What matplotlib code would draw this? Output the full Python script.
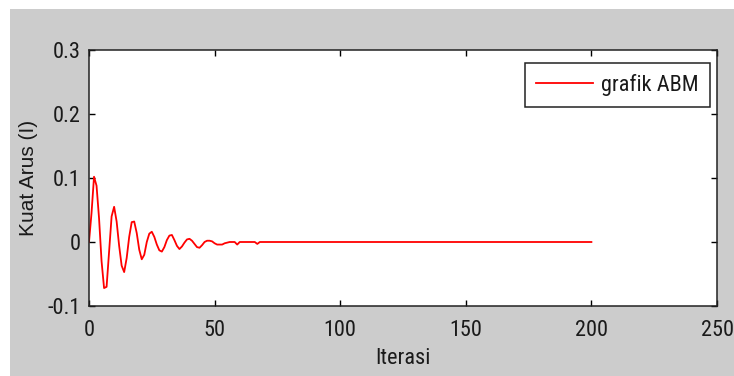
import matplotlib
matplotlib.use("Agg")
import matplotlib.pyplot as plt
from matplotlib.patches import Rectangle

# Data (one sample per iteration where it oscillates,
# then the flat tail out to iteration 200)
iterasi = [0, 1, 2, 3, 4, 5, 6, 7, 8, 9,
           10, 11, 12, 13, 14, 15, 16, 17, 18, 19,
           20, 21, 22, 23, 24, 25, 26, 27, 28, 29,
           30, 31, 32, 33, 34, 35, 36, 37, 38, 39,
           40, 41, 42, 43, 44, 45, 46, 47, 48, 49,
           50, 51, 52, 53, 54, 55, 56, 58, 59, 60,
           66, 67, 68, 200]
arus = [0.0, 0.045, 0.102, 0.088, 0.037, -0.030, -0.072, -0.070, -0.015, 0.040,
        0.055, 0.032, -0.006, -0.037, -0.047, -0.025, 0.008, 0.031, 0.032, 0.014,
        -0.012, -0.027, -0.020, 0.000, 0.013, 0.016, 0.008, -0.004, -0.013, -0.015,
        -0.008, 0.003, 0.010, 0.011, 0.003, -0.006, -0.011, -0.007, -0.001, 0.004,
        0.005, 0.002, -0.003, -0.008, -0.009, -0.005, 0.000, 0.002, 0.002, 0.001,
        -0.002, -0.004, -0.004, -0.004, -0.002, -0.001, 0.000, 0.000, -0.004, 0.000,
        0.000, -0.003, 0.000, 0.000]
x_ticks = [0, 50, 100, 150, 200, 250]
y_ticks = [-0.1, 0, 0.1, 0.2, 0.3]
y_tick_labels = ["-0.1", "0", "0.1", "0.2", "0.3"]
series_label = "grafik ABM"
x_label = "Iterasi"
y_label = "Kuat Arus (I)"

W, H = 734, 376
narrow = ["Roboto Condensed", "Archivo Narrow", "Liberation Sans", "DejaVu Sans"]
regular = ["Liberation Sans", "DejaVu Sans"]
fs = 16
txt = "#1a1a1a"

fig = plt.figure(figsize=(W / 100, H / 100), dpi=100)
fig.patch.set_facecolor("white")
fig.patches.append(Rectangle((10 / W, 0), 1 - 10 / W, (H - 9) / H,
                             transform=fig.transFigure, facecolor="#cccccc",
                             edgecolor="none", zorder=-10))

ax = fig.add_axes([89 / W, (H - 306) / H, (717 - 89) / W, (306 - 50) / H])
ax.set_facecolor("white")
ax.plot(iterasi, arus, color="red", lw=1.3, label=series_label)
ax.set_xlim(0, 250)
ax.set_ylim(-0.1, 0.3)
ax.set_xticks(x_ticks)
ax.set_yticks(y_ticks)
ax.set_yticklabels(y_tick_labels)
ax.tick_params(direction="in", length=4, width=1, top=True, right=True,
               labelsize=fs, colors="black")
ax.tick_params(axis="x", pad=10)
ax.tick_params(axis="y", pad=6)
for lab in ax.get_xticklabels() + ax.get_yticklabels():
    lab.set_family(narrow)
    lab.set_color(txt)
for s in ax.spines.values():
    s.set_linewidth(1.1)
    s.set_color("#222222")

ax.set_xlabel(x_label, fontsize=fs, family=narrow, labelpad=5, color=txt)
ax.set_ylabel(y_label, fontsize=15, family=regular, labelpad=7, color=txt)

leg = ax.legend(loc="upper right", bbox_to_anchor=((710 - 89) / 628, (306 - 63) / 256),
                borderaxespad=0, prop={"family": narrow, "size": fs},
                handlelength=2.6, handletextpad=0.35, borderpad=0.5,
                fancybox=False, framealpha=1, edgecolor="#222222")
leg.get_frame().set_linewidth(1.1)
for t in leg.get_texts():
    t.set_color(txt)

fig.savefig("out.png", dpi=100)
